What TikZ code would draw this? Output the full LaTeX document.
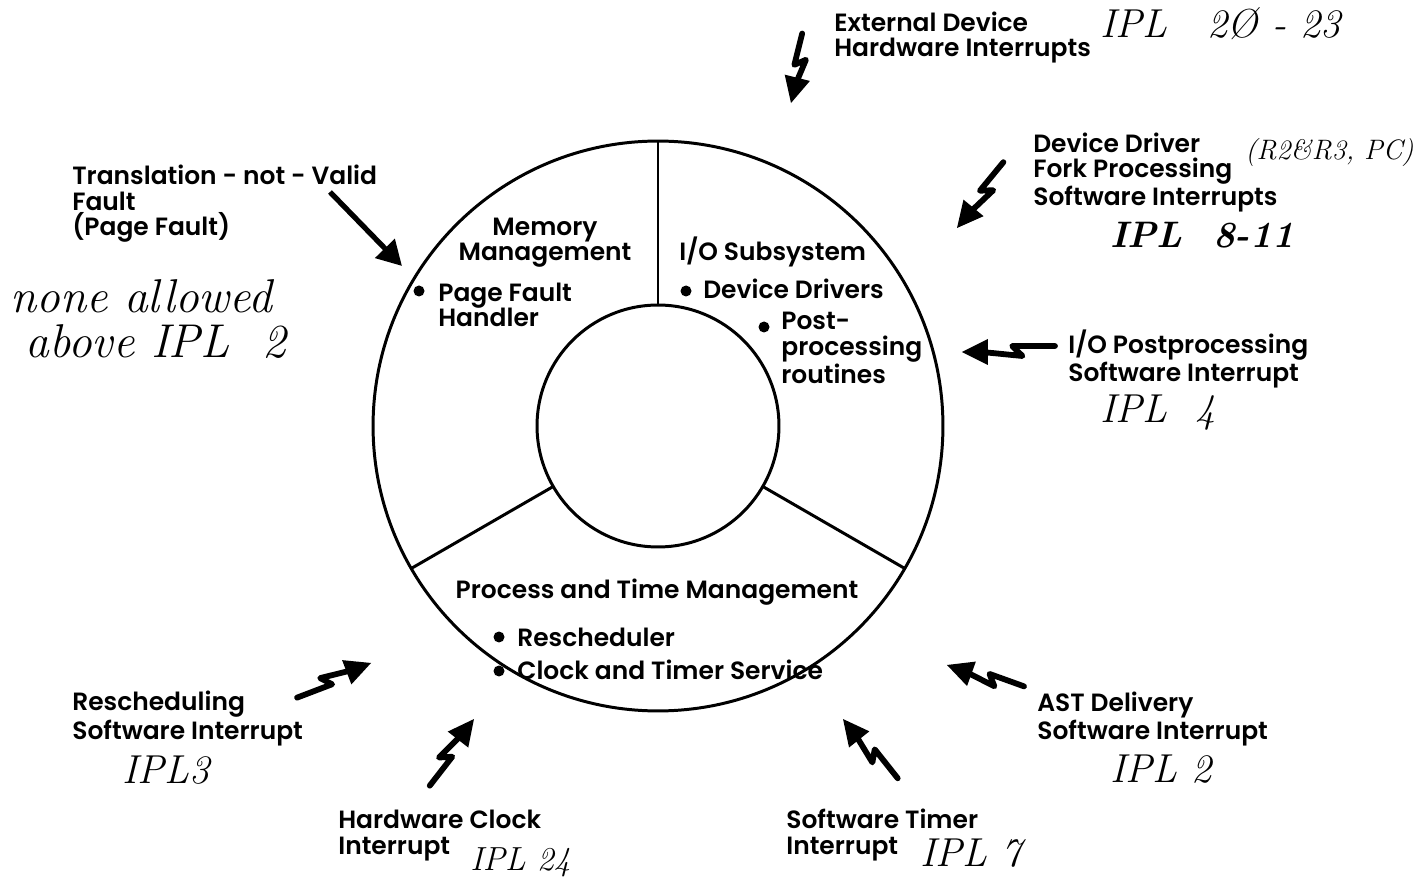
\documentclass[tikz,border=0pt]{standalone}
\usepackage{fontspec}
\usetikzlibrary{calc,arrows.meta}
\newfontfamily\lab{Poppins}[UprightFont={* SemiBold}]

\tikzset{
  lbl/.style={font=\lab\fontsize{14.2}{14.75}\selectfont, inner sep=0pt, align=left, anchor=base west},
  hand/.style={font=\itshape\fontsize{23}{28}\selectfont, inner sep=0pt, anchor=base west},
  ring/.style={circle, draw, line width=1.7pt, inner sep=0pt, outer sep=0pt},
  divider/.style={line width=1.7pt},
  dotmark/.style={circle, fill, inner sep=0pt, minimum size=0.22cm},
  boltpen/.style={line width=3.3pt, line join=round, line cap=round},
  plainarrow/.style={line width=3pt, -{Triangle[length=14pt,width=15pt]}},
}

% lightning-style arrow from #1 (tail) to #2 (tip); lengths in local px units
\newcommand\boltarrow[2]{%
  \path let \p1=($(#2)-(#1)$) in
    \pgfextra{\pgfmathsetmacro\tmpL{veclen(\x1,\y1)/0.569}\xdef\boltlen{\tmpL}%
              \pgfmathsetmacro\tmpA{atan2(\y1,\x1)}\xdef\boltang{\tmpA}};
  \begin{scope}[shift={(#1)}, rotate=\boltang, x=0.02cm, y=0.02cm]
    \draw[boltpen] (0,-6) -- ({0.46*\boltlen},-6) -- ({0.35*\boltlen},4) -- ({\boltlen-20},0);
    \fill ({\boltlen-26},13) -- (\boltlen,0) -- ({\boltlen-26},-13) -- cycle;
  \end{scope}}

\begin{document}
\begin{tikzpicture}[x=0.02cm, y=-0.02cm]
\useasboundingbox (0,0) rectangle (1421,878);

% the two rings and the three sectors
\node[ring, minimum size=11.4cm] (outer) at (658,426) {};
\node[ring, minimum size=4.84cm] (inner) at (658,426) {};
\draw[divider] (outer.90) -- (inner.90);
\draw[divider] (outer.210) -- (inner.210);
\draw[divider] (outer.330) -- (inner.330);

% sector contents (multi-line nodes are placed by their last baseline)
\node[lbl, align=center, anchor=base] (mm) at (545,261) {Memory\\Management};
\node[dotmark] (d1) at (419,291) {};
\node[lbl] (pfh) at (438,327) {Page Fault\\Handler};

\node[lbl] (ios) at (679,261) {I/O Subsystem};
\node[dotmark] (d2) at (686,291) {};
\node[lbl] (dd) at (703,299) {Device Drivers};
\node[dotmark] (d3) at (764,327) {};
\node[lbl] (ppr) at (781,384) {Post-\\processing\\routines};

\node[lbl, anchor=base] (ptm) at (657,599) {Process and Time Management};
\node[dotmark] (d4) at (499,637) {};
\node[lbl] (rs) at (517,646) {Rescheduler};
\node[dotmark] (d5) at (499,671) {};
\node[lbl] (cts) at (517,680) {Clock and Timer Service};

% interrupt sources
\node[lbl] (ext) at (834,57) {External Device\\Hardware Interrupts};
\node[lbl] (fork) at (1033,206) {Device Driver\\Fork Processing\\Software Interrupts};
\node[lbl] (iop) at (1068,382) {I/O Postprocessing\\Software Interrupt};
\node[lbl] (ast) at (1037,739) {AST Delivery\\Software Interrupt};
\node[lbl] (swt) at (786,854) {Software Timer\\Interrupt};
\node[lbl] (hwc) at (338,854) {Hardware Clock\\Interrupt};
\node[lbl] (rsi) at (72,739) {Rescheduling\\Software Interrupt};
\node[lbl] (tnv) at (72,236) {Translation - not - Valid\\Fault\\(Page Fault)};

% handwritten notes
\node[hand] (h1) at (1100,38) {IPL\quad 2Ø - 23};
\node[hand, font=\itshape\fontsize{16}{20}\selectfont] (h2) at (1245,160) {(R2\&R3, PC)};
\node[hand, font=\bfseries\itshape\fontsize{21}{26}\selectfont] (h3) at (1110,248) {IPL\ \ 8-11};
\node[hand] (h4) at (1100,423) {IPL\ \ 4};
\node[hand] (h5) at (1110,782) {IPL 2};
\node[hand] (h6) at (920,866) {IPL 7};
\node[hand, font=\itshape\fontsize{19}{24}\selectfont] (h7) at (470,870) {IPL 24};
\node[hand] (h8) at (122,783) {IPL3};
\node[hand, font=\itshape\fontsize{27}{30}\selectfont] (h9) at (10,313) {none allowed};
\node[hand, font=\itshape\fontsize{27}{30}\selectfont] (h10) at (25,358) {above IPL\ \ 2};

% arrow ends
\coordinate (t1) at (808,35);   \coordinate (p1) at (791,103);
\coordinate (t2) at (1008,166); \coordinate (p2) at (957,228);
\coordinate (t3) at (1055,352); \coordinate (p3) at (962,352);
\coordinate (t4) at (1022,692); \coordinate (p4) at (947,665);
\coordinate (t5) at (893,782);  \coordinate (p5) at (843,719);
\coordinate (t6) at (425,782);  \coordinate (p6) at (474,719);
\coordinate (t7) at (295,692);  \coordinate (p7) at (371,663);
\coordinate (t8) at (330,192);  \coordinate (p8) at (402,266);

\boltarrow{t1}{p1}
\boltarrow{t2}{p2}
\boltarrow{t3}{p3}
\boltarrow{t4}{p4}
\boltarrow{t5}{p5}
\boltarrow{t6}{p6}
\boltarrow{t7}{p7}
\draw[plainarrow] (t8) -- (p8);
\end{tikzpicture}
\end{document}
